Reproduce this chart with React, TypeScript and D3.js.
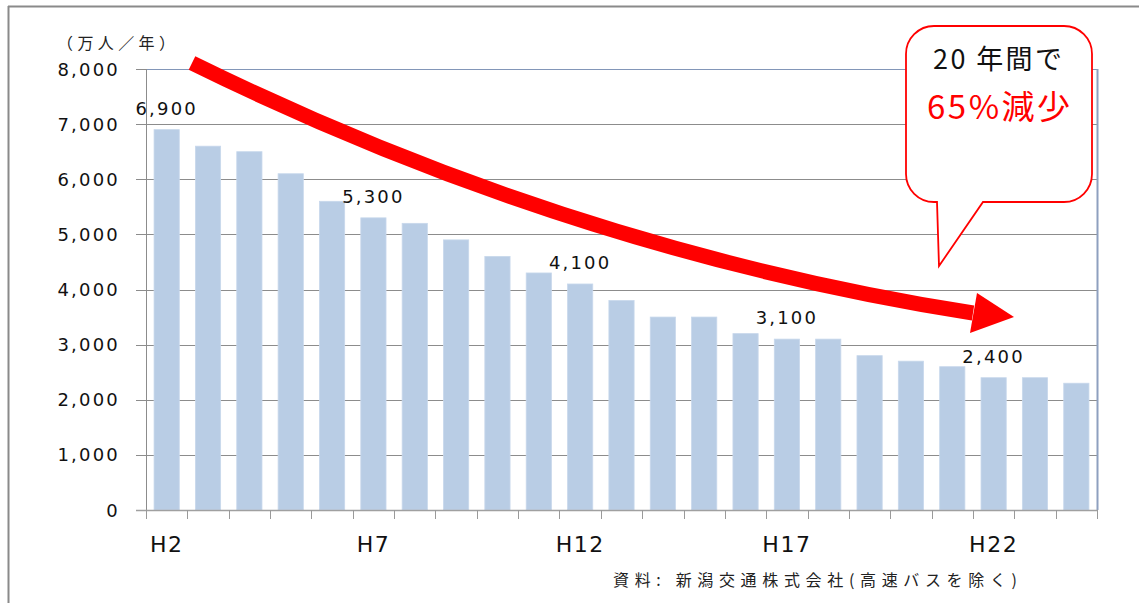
import React from "react";
import * as d3 from "d3";

const years = ["H2","H3","H4","H5","H6","H7","H8","H9","H10","H11","H12","H13","H14","H15","H16","H17","H18","H19","H20","H21","H22","H23","H24"];
const riders = [6900,6600,6500,6100,5600,5300,5200,4900,4600,4300,4100,3800,3500,3500,3200,3100,3100,2800,2700,2600,2400,2400,2300];
const labeledYears = ["H2","H7","H12","H17","H22"];
const xTickLabels = ["H2","H7","H12","H17","H22"];
const yTicks = [0,1000,2000,3000,4000,5000,6000,7000,8000];
const unitLabel = "（万人／年）";
const sourceLabel = "資料: 新潟交通株式会社(高速バスを除く)";
const calloutLine1 = "20 年間で";
const calloutLine2 = "65%減少";

const W = 1139, H = 603;
const left = 146, right = 1097, top = 69, bottom = 510;
const numFont = "'DejaVu Sans', Verdana, sans-serif";
const jpFont = "'Noto Sans CJK JP', sans-serif";

export default function App() {
  const x = d3.scaleBand<string>().domain(years).range([left, right]).paddingInner(0.39).paddingOuter(0.195);
  const y = d3.scaleLinear().domain([0, 8000]).range([bottom, top]);
  const step = x.step();
  const bw = x.bandwidth();
  const boundaries = years.map((d) => (x(d) as number) - (step - bw) / 2).concat([right]);
  const fmt = d3.format(",");

  // arrow geometry
  const p0: [number, number] = [192, 63];
  const c: [number, number] = [572, 250];
  const p2: [number, number] = [973, 313];
  const arrowPath = d3.path();
  arrowPath.moveTo(p0[0], p0[1]);
  arrowPath.quadraticCurveTo(c[0], c[1], p2[0], p2[1]);

  // callout geometry
  const bx0 = 906, bx1 = 1092, by0 = 26, by1 = 202, r = 28;
  const callout = `M${bx0 + r},${by0} H${bx1 - r} A${r},${r} 0 0 1 ${bx1},${by0 + r} V${by1 - r} A${r},${r} 0 0 1 ${bx1 - r},${by1} H983 L939,266 L937,${by1} H${bx0 + r} A${r},${r} 0 0 1 ${bx0},${by1 - r} V${by0 + r} A${r},${r} 0 0 1 ${bx0 + r},${by0} Z`;

  return (
    <svg width={W} height={H} style={{ position: "absolute", left: 0, top: 0, background: "#fff" }}>
      <rect x={0} y={0} width={W} height={H} fill="#fff" />
      {/* outer frame */}
      <line x1={8} x2={W} y1={6.5} y2={6.5} stroke="#8a8a8a" strokeWidth={2} />
      <line x1={8.5} x2={8.5} y1={6} y2={H} stroke="#8a8a8a" strokeWidth={2} />

      {/* gridlines */}
      {yTicks.filter((t) => t > 0 && t < 8000).map((t) => (
        <line key={t} x1={136} x2={right} y1={Math.round(y(t)) + 0.5} y2={Math.round(y(t)) + 0.5} stroke="#8c8c8c" strokeWidth={1} />
      ))}
      <line x1={136} x2={left} y1={top + 0.5} y2={top + 0.5} stroke="#8c8c8c" />
      <line x1={left} x2={right} y1={top + 0.5} y2={top + 0.5} stroke="#8296b8" />
      <line x1={right + 0.5} x2={right + 0.5} y1={top} y2={bottom} stroke="#8ea0bf" strokeWidth={2} />

      {/* bars */}
      {years.map((d, i) => (
        <rect key={d} x={x(d)} y={y(riders[i])} width={bw} height={bottom - y(riders[i])} fill="#b9cde5" stroke="#c8d8ec" strokeWidth={0.8} />
      ))}

      {/* axes */}
      <line x1={left + 0.5} x2={left + 0.5} y1={top} y2={bottom + 8} stroke="#8c8c8c" />
      <line x1={136} x2={right + 1} y1={bottom + 0.5} y2={bottom + 0.5} stroke="#a0a0a0" strokeWidth={1.5} />
      {boundaries.map((bx, i) => (
        <line key={i} x1={Math.round(bx) + 0.5} x2={Math.round(bx) + 0.5} y1={bottom} y2={bottom + 9} stroke="#9a9a9a" />
      ))}

      {/* y labels */}
      {yTicks.map((t) => (
        <text key={t} x={120} y={y(t) + 6.5} textAnchor="end" fontFamily={numFont} fontSize={18} letterSpacing={2.2} fill="#111">
          {fmt(t)}
        </text>
      ))}

      {/* x labels */}
      {xTickLabels.map((d) => (
        <text key={d} x={(x(d) as number) + bw / 2} y={552} textAnchor="middle" fontFamily={numFont} fontSize={22} letterSpacing={1.5} fill="#111">
          {d}
        </text>
      ))}

      {/* data labels */}
      {years.map((d, i) =>
        labeledYears.includes(d) ? (
          <text key={d} x={(x(d) as number) + bw / 2} y={y(riders[i]) - 15} textAnchor="middle" fontFamily={numFont} fontSize={18} letterSpacing={2.2} fill="#111">
            {fmt(riders[i])}
          </text>
        ) : null
      )}

      {/* unit label */}
      <text x={57} y={49} fontFamily={jpFont} fontSize={16} textLength={118} lengthAdjust="spacing" fill="#222">
        {unitLabel}
      </text>

      {/* source */}
      <text x={613} y={586} fontFamily={jpFont} fontSize={16} textLength={404} lengthAdjust="spacing" fill="#222">
        {sourceLabel}
      </text>

      {/* arrow */}
      <path d={arrowPath.toString()} fill="none" stroke="#ff0000" strokeWidth={15} strokeLinecap="butt" />
      <polygon points="977,293 970,333 1014,317" fill="#ff0000" />

      {/* callout */}
      <path d={callout} fill="#fff" stroke="#ff0000" strokeWidth={1.8} />
      <text x={933} y={69} fontFamily={jpFont} fontSize={27} textLength={129} lengthAdjust="spacing" fill="#111">
        {calloutLine1}
      </text>
      <text x={927} y={119} fontFamily={jpFont} fontSize={33} textLength={143} lengthAdjust="spacing" fill="#ff0000">
        {calloutLine2}
      </text>
    </svg>
  );
}
